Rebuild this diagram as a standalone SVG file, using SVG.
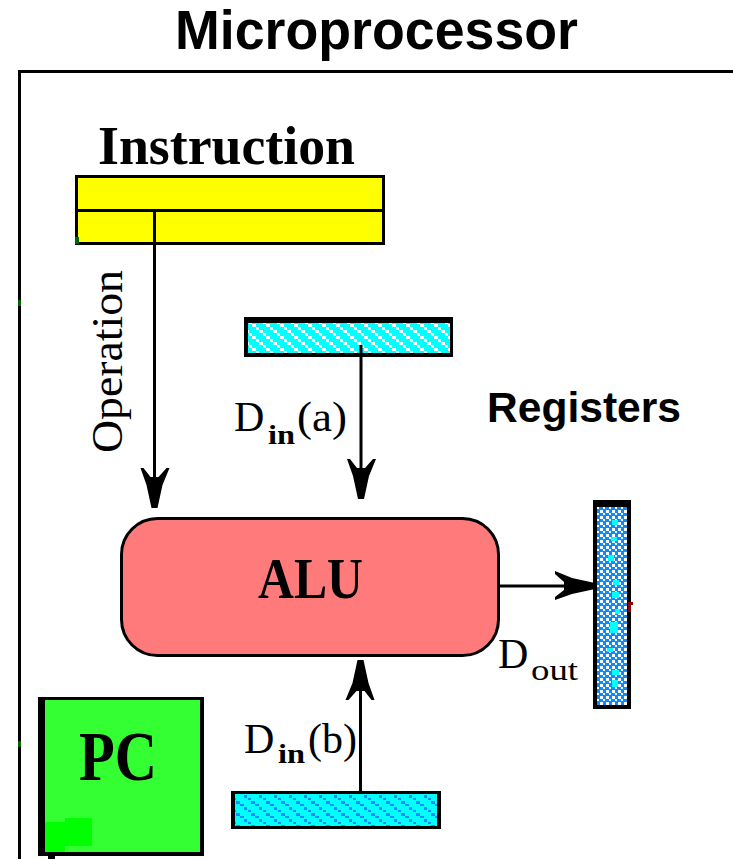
<svg xmlns="http://www.w3.org/2000/svg" width="733" height="859" viewBox="0 0 733 859">
<style>
.serif{font-family:"Liberation Serif","DejaVu Serif",serif;fill:#000}
.sans{font-family:"Liberation Sans","DejaVu Sans",Arial,sans-serif;fill:#000;font-weight:bold}
.b{font-weight:bold}
.wire{stroke:#000;stroke-width:3;fill:none}
.frame{stroke:#000;stroke-width:3;fill:none}
</style>
<defs>
<pattern id="hatchW" width="14" height="12" patternUnits="userSpaceOnUse">
<rect width="14" height="12" fill="#00FFFF"/>
<path d="M0,0h4v3h-4z M4,3h3v3h-3z M7,6h4v3h-4z M11,9h3v3h-3z" fill="#FFFFFF"/>
</pattern>
<pattern id="hatchB" width="15" height="12" patternUnits="userSpaceOnUse">
<rect width="15" height="12" fill="#00FFFF"/>
<path d="M0,0h4v2h-4z M4,3h3v3h-3z M8,6h3v2h-3z M11,9h4v3h-4z" fill="#1E88FF"/>
</pattern>
<pattern id="check" width="6" height="6" patternUnits="userSpaceOnUse">
<rect width="6" height="6" fill="#0A8CFF"/>
<rect width="3" height="3" fill="#FFFFFF"/>
<rect x="3" y="3" width="2" height="2" fill="#FFFFFF"/>
</pattern>
<path id="ah" d="M-14,-40 L-11,-40 L-4,-31 L4,-31 L12,-40 L15,-40 L8,-23 L3,0 L-3,0 L-8,-23 Z" fill="#000"/>
</defs>
<rect width="733" height="859" fill="#FFFFFF"/>

<g id="title">
<text class="sans" x="175" y="49" font-size="55" textLength="403" lengthAdjust="spacingAndGlyphs">Microprocessor</text>
</g>

<g id="frame">
<path class="frame" d="M19.5,859 V71.5 H733"/>
<rect x="18" y="300" width="3" height="6" fill="#006400"/>
<rect x="18" y="741" width="3" height="6" fill="#006400"/>
</g>

<g id="instruction">
<text class="serif b" x="98" y="164" font-size="54" textLength="257" lengthAdjust="spacingAndGlyphs">Instruction</text>
<rect x="76.5" y="176.5" width="307" height="67" fill="#FFFF00" stroke="#000" stroke-width="3"/>
<line x1="76.5" y1="210.5" x2="383.5" y2="210.5" stroke="#000" stroke-width="3"/>
<line x1="154.5" y1="210.5" x2="154.5" y2="243.5" stroke="#000" stroke-width="3"/>
<rect x="75" y="237" width="4" height="7" fill="#006400"/>
</g>

<g id="reg-a">
<rect x="244" y="317" width="209" height="40" fill="#000"/>
<rect x="248" y="323" width="202" height="30" fill="url(#hatchW)"/>
</g>

<g id="reg-b">
<rect x="231" y="791" width="210" height="38" fill="#000"/>
<rect x="235" y="794" width="202" height="32" fill="url(#hatchB)"/>
</g>

<g id="reg-out">
<rect x="593" y="500" width="38" height="209" fill="#000"/>
<rect x="597" y="507" width="30" height="198" fill="url(#check)"/>
<g fill="#00FFFF">
<rect x="612" y="520" width="6" height="5"/>
<rect x="611" y="537" width="6" height="4"/>
<rect x="608" y="555" width="6" height="6"/>
<rect x="613" y="580" width="6" height="5"/>
<rect x="612" y="592" width="7" height="6"/>
<rect x="615" y="609" width="5" height="5"/>
<rect x="610" y="622" width="8" height="11"/>
<rect x="607" y="648" width="6" height="4"/>
<rect x="612" y="670" width="7" height="5"/>
<rect x="612" y="680" width="6" height="7"/>
</g>
<rect x="628" y="602" width="5" height="3" fill="#8B0000"/>
<rect x="628" y="604" width="3" height="8" fill="#8B0000"/>
</g>

<g id="alu">
<rect x="121.5" y="518.5" width="377" height="137" rx="36" ry="36" fill="#FF7B7B" stroke="#000" stroke-width="3"/>
<text class="serif b" x="258" y="598" font-size="56" textLength="105" lengthAdjust="spacingAndGlyphs">ALU</text>
</g>

<g id="pc">
<rect x="38" y="697" width="166" height="159" fill="#000"/>
<rect x="45" y="700" width="155" height="152" fill="#33FF33"/>
<rect x="45" y="822" width="20" height="30" fill="#00FF00"/>
<rect x="65" y="818" width="27" height="28" fill="#00FF00"/>
<rect x="48" y="855" width="7" height="4" fill="#000"/>
<text class="serif b" x="79" y="780" font-size="70" textLength="78" lengthAdjust="spacingAndGlyphs">PC</text>
</g>

<g id="labels">
<text class="serif" transform="translate(122,453) rotate(-90)" font-size="44" textLength="183" lengthAdjust="spacingAndGlyphs">Operation</text>
<text class="serif" x="234" y="431" font-size="42">D</text>
<text class="serif b" x="268" y="444" font-size="28" textLength="27" lengthAdjust="spacingAndGlyphs">in</text>
<text class="serif" x="297" y="431" font-size="42" textLength="50" lengthAdjust="spacingAndGlyphs">(a)</text>
<text class="sans" x="487" y="422" font-size="42" textLength="194" lengthAdjust="spacingAndGlyphs">Registers</text>
<text class="serif" x="498" y="668" font-size="42">D</text>
<text class="serif" x="531" y="680" font-size="30" textLength="47" lengthAdjust="spacingAndGlyphs">out</text>
<text class="serif" x="244" y="753" font-size="42">D</text>
<text class="serif b" x="278" y="763" font-size="28" textLength="27" lengthAdjust="spacingAndGlyphs">in</text>
<text class="serif" x="308" y="753" font-size="42" textLength="49" lengthAdjust="spacingAndGlyphs">(b)</text>
</g>

<g id="connectors">
<line class="wire" x1="154.5" y1="243" x2="154.5" y2="500"/>
<use href="#ah" transform="translate(154.5,508)"/>
<line class="wire" x1="361" y1="345" x2="361" y2="492"/>
<use href="#ah" transform="translate(361,499)"/>
<line class="wire" x1="360.5" y1="791" x2="360.5" y2="668"/>
<use href="#ah" transform="translate(360.5,660) rotate(180)"/>
<line class="wire" x1="498" y1="586" x2="588" y2="586"/>
<use href="#ah" transform="translate(595,586) rotate(-90)"/>
</g>
</svg>
